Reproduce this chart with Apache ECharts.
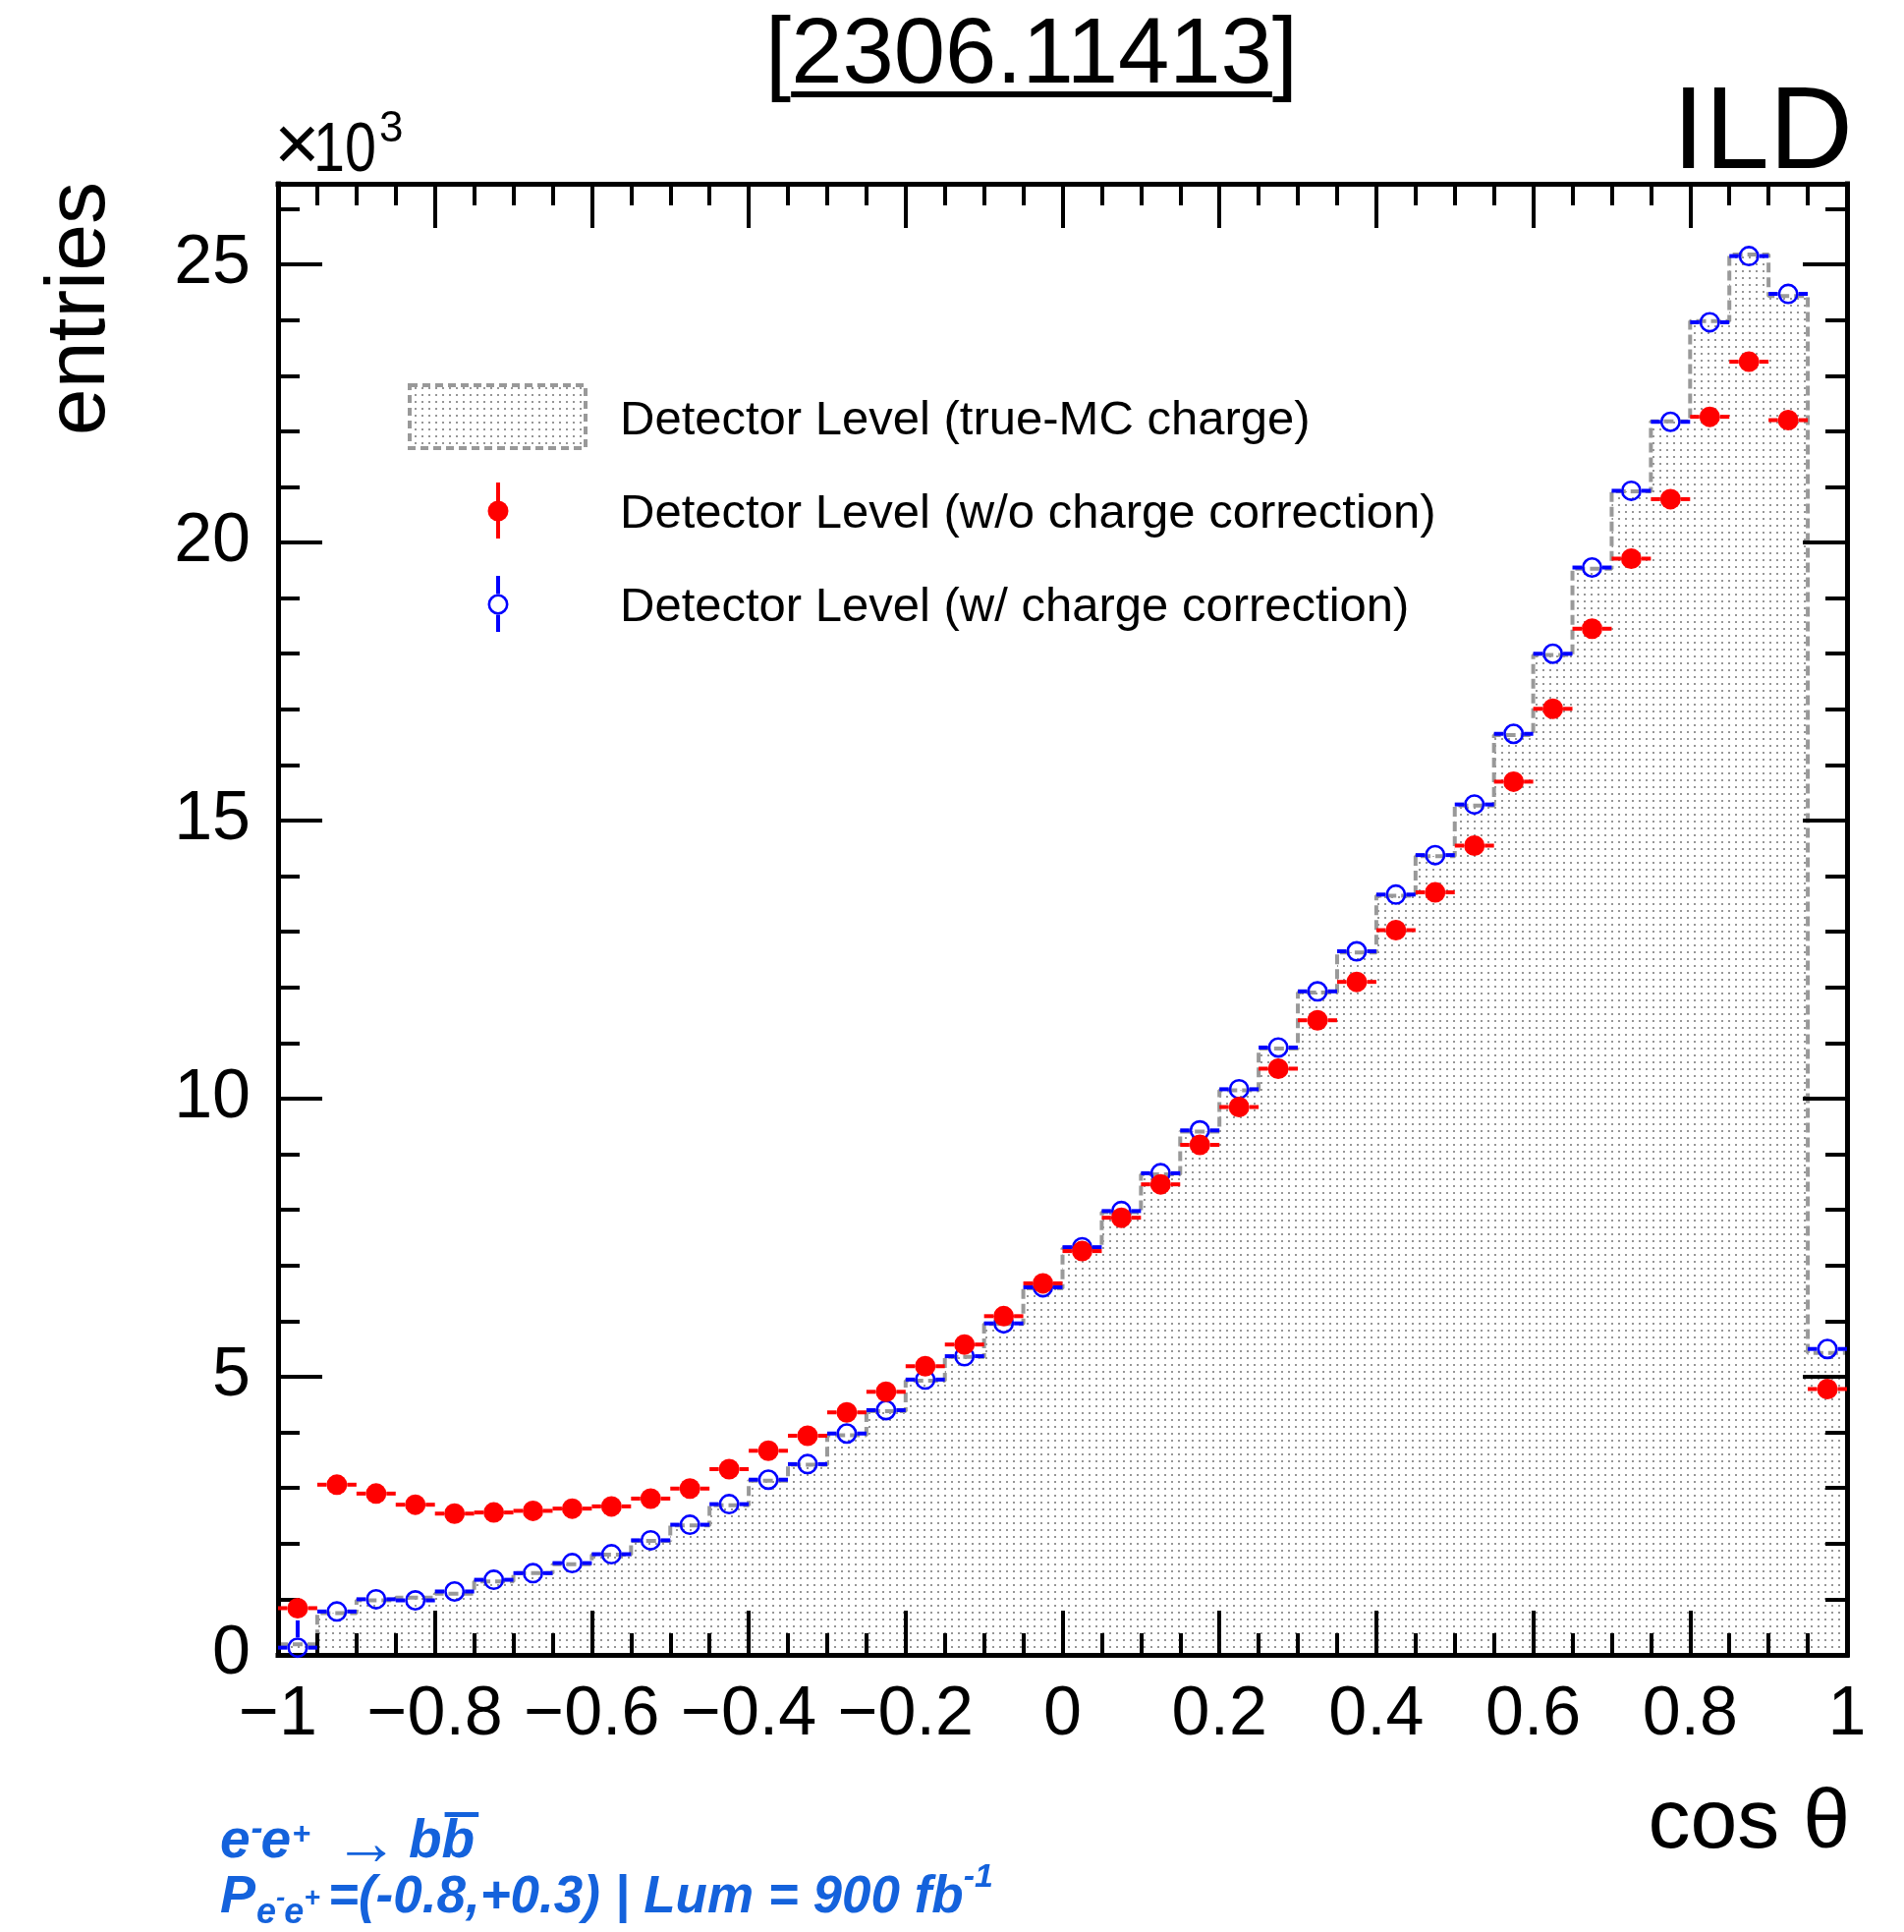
<!DOCTYPE html>
<html>
<head>
<meta charset="utf-8">
<script src="https://cdn.jsdelivr.net/npm/echarts@6/dist/echarts.min.js"></script>
<style>html,body{margin:0;padding:0;background:#fff}#c{width:1938px;height:1966px}</style>
</head>
<body>
<div id="c"></div>
<script>
// ---------------- data ----------------
const binCenters = [-0.975,-0.925,-0.875,-0.825,-0.775,-0.725,-0.675,-0.625,-0.575,-0.525,
  -0.475,-0.425,-0.375,-0.325,-0.275,-0.225,-0.175,-0.125,-0.075,-0.025,
  0.025,0.075,0.125,0.175,0.225,0.275,0.325,0.375,0.425,0.475,
  0.525,0.575,0.625,0.675,0.725,0.775,0.825,0.875,0.925,0.975];
const binWidth = 0.05;
// entries in units of 10^3
const trueMC = [0.19,0.75,0.98,1.03,1.10,1.32,1.47,1.63,1.80,2.05,
  2.33,2.69,3.13,3.42,3.95,4.38,4.93,5.36,5.95,6.59,
  7.31,7.96,8.64,9.41,10.15,10.90,11.91,12.63,13.65,14.36,
  15.27,16.54,17.98,19.53,20.92,22.18,23.98,25.18,24.43,5.43];
const noCorr = [0.84,3.06,2.90,2.70,2.54,2.56,2.59,2.63,2.67,2.81,
  2.99,3.34,3.67,3.94,4.36,4.73,5.19,5.58,6.09,6.68,
  7.26,7.86,8.46,9.17,9.85,10.54,11.41,12.10,13.03,13.71,
  14.55,15.70,17.01,18.45,19.71,20.78,22.26,23.25,22.20,4.78];
const noCorrErr = [0.05,0.06,0.06,0.06,0.05,0.05,0.05,0.05,0.05,0.05,
  0.06,0.06,0.06,0.06,0.07,0.07,0.07,0.08,0.08,0.08,
  0.09,0.09,0.09,0.10,0.10,0.10,0.11,0.11,0.11,0.12,
  0.12,0.13,0.13,0.14,0.14,0.14,0.15,0.15,0.15,0.07];
const withCorr = [0.13,0.78,1.00,0.98,1.14,1.35,1.47,1.65,1.81,2.06,
  2.34,2.71,3.15,3.43,3.98,4.40,4.95,5.37,5.96,6.61,
  7.33,7.98,8.66,9.43,10.17,10.92,11.93,12.65,13.67,14.38,
  15.29,16.56,18.00,19.55,20.93,22.17,23.96,25.15,24.47,5.50];
const withCorrErr = [0.49,0.10,0.08,0.08,0.07,0.07,0.07,0.07,0.07,0.07,
  0.07,0.07,0.07,0.07,0.08,0.08,0.08,0.08,0.09,0.09,
  0.09,0.10,0.10,0.10,0.11,0.11,0.11,0.12,0.12,0.12,
  0.13,0.13,0.14,0.14,0.15,0.15,0.16,0.16,0.16,0.08];
const legendLabels = ['Detector Level (true-MC charge)','Detector Level (w/o charge correction)','Detector Level (w/ charge correction)'];
const yMax = 26.45;

// ---------------- helpers ----------------
const FONT = '"Liberation Sans", Arial, Helvetica, sans-serif';
const BLUE = '#1462dc';
const R = 10.5;
const pat = document.createElement('canvas');
pat.width = 7; pat.height = 7;
(function(){const c = pat.getContext('2d'); c.fillStyle = '#969696'; c.fillRect(2,2,2,2);})();

const mc = document.createElement('canvas').getContext('2d');
function textW(s, size, style){ mc.font = (style||'') + ' ' + size + 'px ' + FONT; return mc.measureText(s).width; }
function T(text, x, baseline, size, extra){
  return {type:'text', x:x, y: baseline - 0.3465*size, z:10,
    style: Object.assign({text:text, x:0, y:0, fontSize:size, fontFamily:FONT, fill:'#000',
      textAlign:'left', textVerticalAlign:'middle', align:'left', verticalAlign:'middle'}, extra||{})};
}

const histLine = binCenters.map((c,i)=>[c - binWidth/2, trueMC[i]]);
histLine.push([binCenters[binCenters.length-1] + binWidth/2, trueMC[trueMC.length-1]]);
const redData = binCenters.map((c,i)=>[c, noCorr[i], noCorrErr[i]]);
const blueData = binCenters.map((c,i)=>[c, withCorr[i], withCorrErr[i]]);

function makeRender(color, filled){
  return function(params, api){
    const xc = api.value(0), yv = api.value(1), er = api.value(2);
    const p = api.coord([xc, yv]);
    const xl = api.coord([xc - binWidth/2, yv])[0];
    const xr = api.coord([xc + binWidth/2, yv])[0];
    const yt = api.coord([xc, yv + er])[1];
    const yb = api.coord([xc, Math.max(0, yv - er)])[1];
    const ls = {stroke:color, lineWidth:4};
    const ch = [];
    if (p[0]-R > xl) ch.push({type:'line', shape:{x1:xl,y1:p[1],x2:p[0]-R,y2:p[1]}, style:ls});
    if (xr > p[0]+R) ch.push({type:'line', shape:{x1:p[0]+R,y1:p[1],x2:xr,y2:p[1]}, style:ls});
    if (yt < p[1]-R) ch.push({type:'line', shape:{x1:p[0],y1:yt,x2:p[0],y2:p[1]-R}, style:ls});
    if (yb > p[1]+R) ch.push({type:'line', shape:{x1:p[0],y1:p[1]+R,x2:p[0],y2:yb}, style:ls});
    if (filled) ch.push({type:'circle', shape:{cx:p[0],cy:p[1],r:R}, style:{fill:color}});
    else ch.push({type:'circle', shape:{cx:p[0],cy:p[1],r:R-1.3}, style:{fill:'none', stroke:color, lineWidth:2.6}});
    return {type:'group', children:ch};
  };
}

const fmtX = v => { const a = parseFloat(Math.abs(v).toFixed(2)); return (v < -1e-9 ? '\u2212' : '') + a; };
const fmtY = v => (Math.abs(v/5 - Math.round(v/5)) < 1e-6 ? String(Math.round(v)) : '');

const lineS = {color:'#000', width:5, cap:'square'};
const tickS = {color:'#000', width:4};
function xAx(pos, labels){
  return {type:'value', position:pos, min:-1, max:1, interval:0.2, z:3,
    axisLine:{show:true, onZero:false, lineStyle:lineS},
    axisTick:{show:true, inside:true, length:45, lineStyle:tickS},
    minorTick:{show:true, splitNumber:4, length:22, lineStyle:tickS},
    axisLabel:{show:labels, margin:27, fontSize:70, fontFamily:FONT, color:'#000', formatter:fmtX},
    splitLine:{show:false}, minorSplitLine:{show:false}};
}
function yAx(pos, major, labels){
  return {type:'value', position:pos, min:0, max:yMax, interval: major ? 5 : 1, z:3,
    axisLine:{show:major, onZero:false, lineStyle:lineS},
    axisTick:{show:true, inside:true, length: major ? 45 : 22, lineStyle:tickS},
    axisLabel:{show:labels, margin:28, fontSize:70, fontFamily:FONT, color:'#000', formatter:fmtY},
    splitLine:{show:false}};
}

// ---------------- graphics (texts, legend) ----------------
const G = [];
// title
const titleSize = 94;
const titleStr = '[2306.11413]';
const tW = textW(titleStr, titleSize);
const tX = 1050 - tW/2;
G.push(T(titleStr, tX, 91, titleSize));
const ulX = tX + textW('[', titleSize);
G.push({type:'rect', z:10, shape:{x:ulX, y:93, width:textW('2306.11413', titleSize), height:6}, style:{fill:'#000'}});
// ILD
G.push(T('ILD', 1886, 179, 118, {textAlign:'right', align:'right'}));
// x10^3
G.push(T('\u00d7', 279, 179, 80));
G.push(Object.assign(T('10', 319, 179, 70), {scaleX:0.82}));
G.push(T('3', 386, 147, 44));
// y title
G.push({type:'text', x:82, y:185, rotation:Math.PI/2, z:10,
  style:{text:'entries', x:0, y:0, fontSize:86, fontFamily:FONT, fill:'#000',
    textAlign:'right', textVerticalAlign:'middle', align:'right', verticalAlign:'middle'}});
// x title
G.push(T('cos \u03b8', 1883, 1886, 86, {textAlign:'right', align:'right'}));

// legend
G.push({type:'rect', z:10, shape:{x:417, y:392, width:179, height:64},
  style:{fill:{image:pat, repeat:'repeat'}, stroke:'#999', lineWidth:4, lineDash:[8,5]}});
G.push({type:'line', z:10, shape:{x1:507,y1:491,x2:507,y2:548}, style:{stroke:'#ff0000', lineWidth:4}});
G.push({type:'circle', z:10, shape:{cx:507, cy:520, r:R}, style:{fill:'#ff0000'}});
G.push({type:'line', z:10, shape:{x1:507,y1:586,x2:507,y2:615-R}, style:{stroke:'#0000ff', lineWidth:4}});
G.push({type:'line', z:10, shape:{x1:507,y1:615+R,x2:507,y2:643}, style:{stroke:'#0000ff', lineWidth:4}});
G.push({type:'circle', z:10, shape:{cx:507, cy:615, r:R-1.3}, style:{fill:'none', stroke:'#0000ff', lineWidth:2.6}});
[445, 540, 635].forEach((b,i)=>G.push(T(legendLabels[i], 631, b, 49)));

// blue annotation
const BI = {fontStyle:'italic', fontWeight:'bold', fill:BLUE};
let cx = 224;
function piece(text, size, baseline){
  G.push(T(text, cx, baseline, size, BI));
  cx += textW(text, size, 'italic bold');
}
piece('e', 55, 1894); cx += 1; piece('-', 36, 1875); cx -= 2; piece('e', 55, 1894); cx += 1; piece('+', 32, 1878);
G.push({type:'text', x:373, y:1879, z:10, style:{text:'\u2192', x:0, y:0, fontSize:66, fontFamily:FONT, fill:BLUE,
  textAlign:'center', textVerticalAlign:'middle', align:'center', verticalAlign:'middle'}});
cx = 416;
piece('b', 55, 1894);
const b2x = cx;
piece('b', 55, 1894);
G.push({type:'rect', z:10, shape:{x:b2x+3, y:1844, width:textW('b',55,'italic bold')+1, height:5}, style:{fill:BLUE}});
cx = 224;
piece('P', 54, 1950); cx += 1;
piece('e', 36, 1960); piece('-', 28, 1942); cx -= 1; piece('e', 36, 1960); piece('+', 28, 1942);
cx = Math.max(cx + 1, 334);
piece('=(-0.8,+0.3) | Lum = 900 fb', 53, 1950);
piece('-1', 34, 1922);

// ---------------- chart ----------------
const chart = echarts.init(document.getElementById('c'), null, {renderer:'canvas'});
chart.setOption({
  animation:false,
  backgroundColor:'#ffffff',
  grid:{left:283, right:58, top:187, bottom:282, containLabel:false, outerBoundsMode:'none'},
  xAxis:[xAx('bottom', true), xAx('top', false)],
  yAxis:[yAx('left', true, true), yAx('left', false, false), yAx('right', true, false), yAx('right', false, false)],
  series:[
    {type:'line', xAxisIndex:0, yAxisIndex:0, data:histLine, step:'end', symbol:'none', z:2, silent:true,
      lineStyle:{color:'#999', width:4, type:[10,5]},
      areaStyle:{color:{image:pat, repeat:'repeat'}, opacity:1, origin:'start'}},
    {type:'custom', xAxisIndex:0, yAxisIndex:0, data:blueData, renderItem:makeRender('#0000ff', false), z:5, silent:true,
      encode:{x:0, y:1}},
    {type:'custom', xAxisIndex:0, yAxisIndex:0, data:redData, renderItem:makeRender('#ff0000', true), z:6, silent:true,
      encode:{x:0, y:1}}
  ],
  graphic:{elements:G}
});
</script>
</body>
</html>
